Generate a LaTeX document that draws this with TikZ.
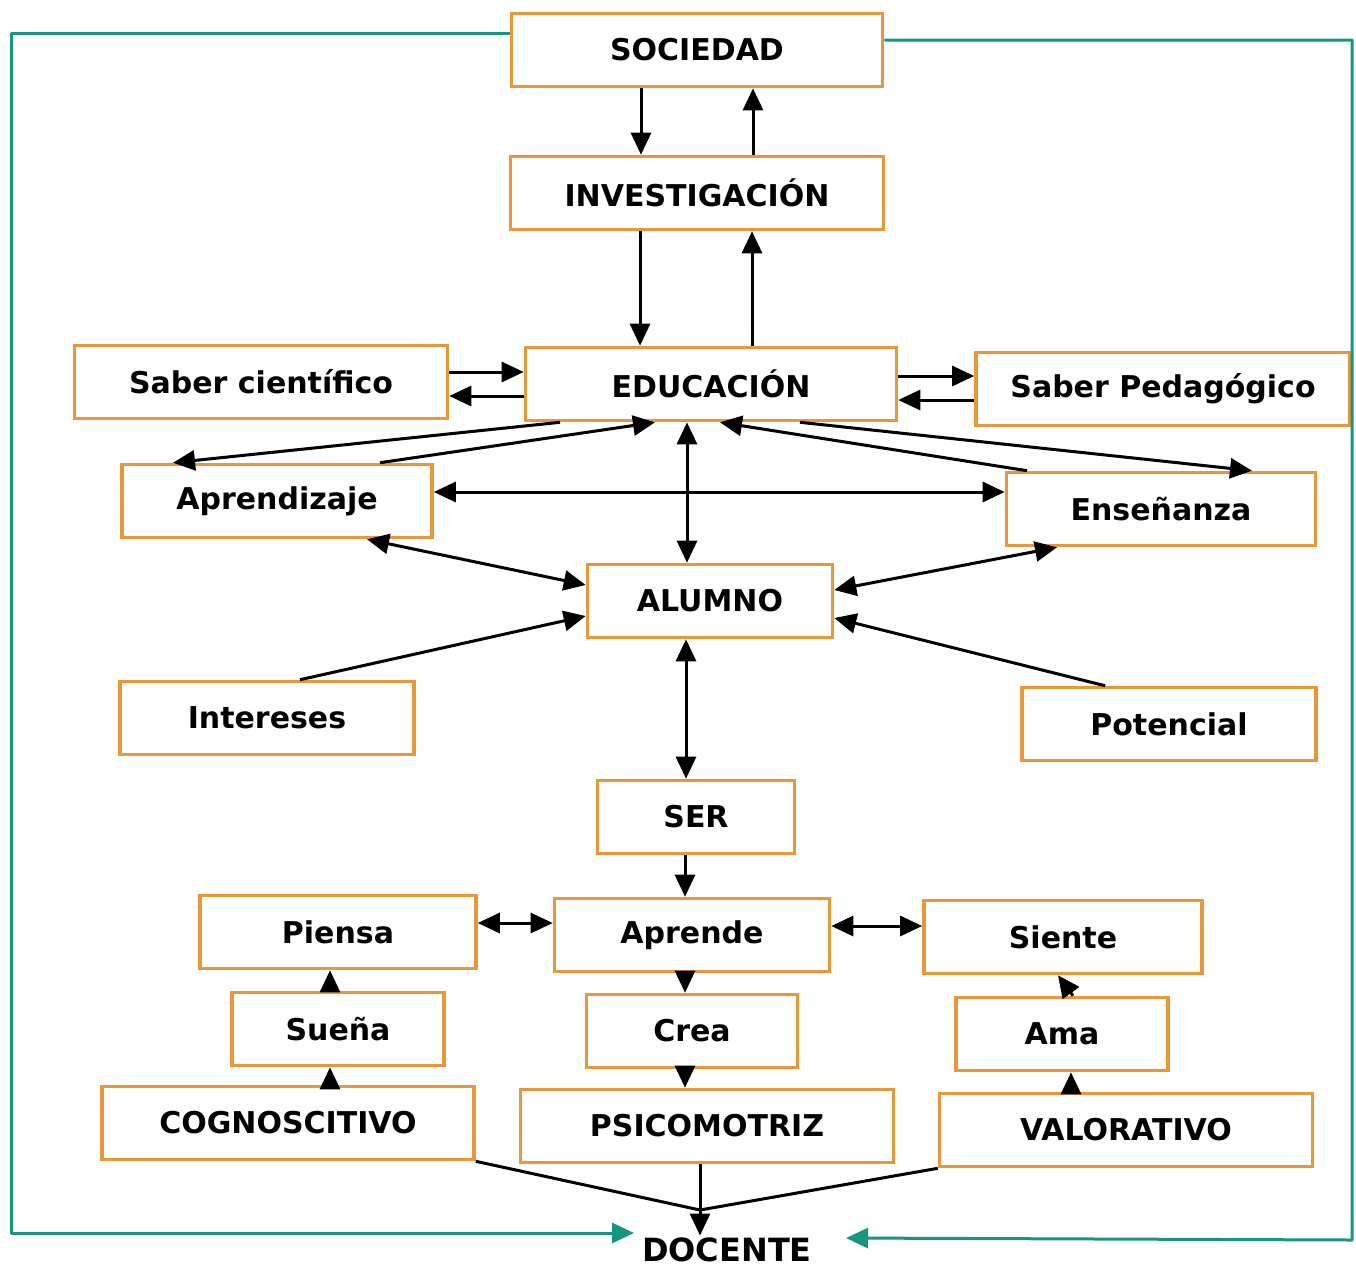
\documentclass[tikz,border=0pt]{standalone}
\usepackage{fontspec}
\setmainfont{DejaVu Sans}
\usetikzlibrary{arrows.meta,calc}
\definecolor{edborde}{RGB}{232,152,58}
\definecolor{edverde}{RGB}{22,150,128}
\tikzset{
  box/.style={
    draw=edborde, line width=1.8pt, fill=white, align=center,
    inner sep=2pt, minimum height=36.5pt, minimum width=#1,
    font=\bfseries\fontsize{15}{18}\selectfont
  },
  arr/.style={-{Triangle[length=11pt,width=10pt]}, line width=1.5pt},
  darr/.style={{Triangle[length=11pt,width=10pt]}-{Triangle[length=11pt,width=10pt]}, line width=1.5pt},
  lazo/.style={draw=edverde, line width=1.5pt, -{Triangle[length=11pt,width=10pt]}, line join=round}
}
\begin{document}
\begin{tikzpicture}[x=0.5pt, y=-0.5pt]
  \useasboundingbox (0,0) rectangle (1356,1271);
  \node[box=185.5pt] (soc) at (697,50) {SOCIEDAD};
  \node[box=186.5pt] (inv) at (697,193) {INVESTIGACIÓN};
  \node[box=186.5pt] (scien) at (261,382) {Saber científico};
  \node[box=185.5pt] (edu) at (711,384) {EDUCACIÓN};
  \node[box=187pt] (sped) at (1163,389) {Saber Pedagógico};
  \node[box=155pt] (apren) at (277,501) {Aprendizaje};
  \node[box=154.5pt] (ense) at (1161,509) {Enseñanza};
  \node[box=122.5pt] (alum) at (710,601) {ALUMNO};
  \node[box=147pt] (inter) at (267,718) {Intereses};
  \node[box=147pt] (pot) at (1169,724) {Potencial};
  \node[box=98.5pt] (ser) at (696,817) {SER};
  \node[box=138pt] (piensa) at (338,932) {Piensa};
  \node[box=137.5pt] (aprende) at (692,935) {Aprende};
  \node[box=139pt] (siente) at (1063,937) {Siente};
  \node[box=106pt] (suena) at (338,1029) {Sueña};
  \node[box=105.5pt] (crea) at (692,1031) {Crea};
  \node[box=106pt] (ama) at (1062,1034) {Ama};
  \node[box=186pt] (cog) at (288,1123) {COGNOSCITIVO};
  \node[box=186.5pt] (psico) at (707,1126) {PSICOMOTRIZ};
  \node[box=186.5pt] (valo) at (1126,1130) {VALORATIVO};
  \node[inner sep=1pt, font=\bfseries\fontsize{16}{19}\selectfont] (doc) at (727,1250) {DOCENTE};

  \draw[arr] ([xshift=-28pt]soc.south) -- ([xshift=-28pt]soc.south |- inv.north);
  \draw[arr] ([xshift=28pt]inv.north) -- ([xshift=28pt]inv.north |- soc.south);
  \draw[arr] ([xshift=-28.5pt]inv.south) -- ([xshift=-28.5pt]inv.south |- edu.north);
  \draw[arr] ([xshift=20.5pt]edu.north) -- ([xshift=20.5pt]edu.north |- inv.south);
  \draw[arr] ([yshift=5pt]scien.east) -- ([yshift=5pt]scien.east -| edu.west);
  \draw[arr] ([yshift=-7pt]scien.east -| edu.west) -- ([yshift=-7pt]scien.east);
  \draw[arr] ([yshift=4pt]edu.east) -- ([yshift=4pt]edu.east -| sped.west);
  \draw[arr] ([yshift=-8pt]edu.east -| sped.west) -- ([yshift=-8pt]edu.east);
  \draw[arr] ([xshift=-75.5pt]edu.south) -- ([xshift=-52pt]apren.north);
  \draw[arr] ([xshift=51.5pt]apren.north) -- ([xshift=-28pt]edu.south);
  \draw[darr] ([xshift=-12pt]edu.south) -- ([xshift=-12pt]edu.south |- alum.north);
  \draw[arr] ([xshift=44.5pt]edu.south) -- ([xshift=45.5pt]ense.north);
  \draw[arr] ([xshift=-67pt]ense.north) -- ([xshift=4.5pt]edu.south);
  \draw[darr] ([yshift=4.5pt]apren.east) -- ([yshift=4.5pt]apren.east -| ense.west);
  \draw[darr] ([xshift=45pt]apren.south) -- ([yshift=8pt]alum.west);
  \draw[darr] ([xshift=-52pt]ense.south) -- ([yshift=5.5pt]alum.east);
  \draw[arr] ([xshift=16.5pt]inter.north) -- ([yshift=-7.5pt]alum.west);
  \draw[arr] ([xshift=-32pt]pot.north) -- ([yshift=-8.5pt]alum.east);
  \draw[darr] ([xshift=-12pt]alum.south) -- ([xshift=-12pt]alum.south |- ser.north);
  \draw[arr] ([xshift=-5.5pt]ser.south) -- ([xshift=-5.5pt]ser.south |- aprende.north);
  \draw[darr] ([yshift=4.5pt]piensa.east) -- ([yshift=4.5pt]piensa.east -| aprende.west);
  \draw[darr] ([yshift=4.5pt]aprende.east) -- ([yshift=4.5pt]aprende.east -| siente.west);
  \draw[arr] ([xshift=-3.5pt]aprende.south) -- ([xshift=-3.5pt]aprende.south |- crea.north);
  \draw[arr] ([xshift=-4pt]suena.north) -- ([xshift=-4pt]suena.north |- piensa.south);
  \draw[arr] ([xshift=-4pt]cog.north -| suena.north) -- ([xshift=-4pt]suena.south);
  \draw[arr] ([xshift=-3.5pt]crea.south) -- ([xshift=-3.5pt]crea.south |- psico.north);
  \draw[arr] ([xshift=5.5pt]ama.north) -- ([xshift=-2.5pt]siente.south);
  \draw[arr] ([xshift=-27.5pt]valo.north) -- ([xshift=-27.5pt]valo.north |- ama.south);

  \coordinate (junta) at (700,1210);
  \draw[line width=1.5pt] (cog.south east) -- (junta) -- (valo.south west);
  \draw[arr] ([xshift=-3.5pt]psico.south) -- (doc.north -| junta);

  \coordinate (izq) at (11,1233);
  \coordinate (izqfin) at (634,1233);
  \coordinate (der) at (1352,1240);
  \coordinate (derfin) at (846,1238);
  \draw[lazo] ([yshift=8.5pt]soc.west) -| (izq) -- (izqfin);
  \draw[lazo] ([yshift=5pt]soc.east) -| (der) -- (derfin);
\end{tikzpicture}
\end{document}
